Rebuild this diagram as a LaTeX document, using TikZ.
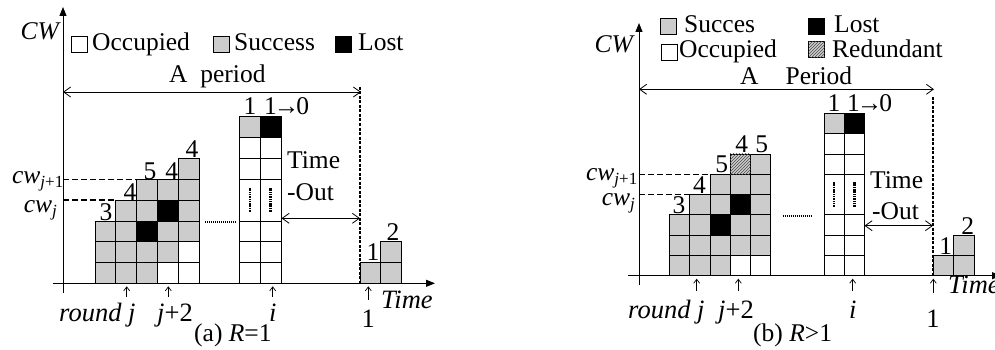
\documentclass[tikz,border=0pt]{standalone}
\usepackage{fontspec}
\setmainfont{Liberation Serif}
\usetikzlibrary{arrows.meta,patterns}
\definecolor{cellgray}{RGB}{204,204,204}
\newcommand\fsA{\fontsize{25.5}{28}\selectfont}
\newcommand\fsB{\fontsize{26.5}{29}\selectfont}
\newcommand\fsS{\fontsize{17}{17}\selectfont}
\newcommand\cwsub[1]{\textit{cw}\raisebox{-4pt}{\fsS #1}}
\newcommand\arrto{1\kern-3pt→\kern-3pt0}
\tikzset{
  txt/.style={inner sep=0pt, font=\fsA},
  txtb/.style={inner sep=0pt, font=\fsB},
  axis/.style={line width=0.9pt, -{Triangle[length=9pt,width=7pt]}},
  cellbase/.style={draw, line width=0.8pt},
  hatchcell/.style={draw, line width=0.8pt, fill=cellgray, postaction={pattern=north east lines, pattern color=gray!60!black}},
  legbox/.style={draw, line width=0.8pt, minimum size=16pt, inner sep=0pt},
  dimarrow/.style={line width=0.8pt, {Straight Barb[length=7pt,width=10pt]}-{Straight Barb[length=7pt,width=10pt]}},
  tickarrow/.style={line width=0.7pt, -{Straight Barb[length=4pt,width=6pt]}},
  vdash/.style={line width=1.3pt, dash pattern=on 3pt off 1.5pt},
  cwdash/.style={line width=1.4pt, dash pattern=on 6pt off 3pt},
  dotline/.style={line width=1.6pt, dash pattern=on 1pt off 1pt},
  vdotline/.style={line width=2.2pt, dash pattern=on 1.5pt off 0.8pt},
}
\begin{document}
\begin{tikzpicture}[x=1pt,y=-1pt]
\useasboundingbox (0,0) rectangle (995,350);
\clip (0,0) rectangle (995,350);

% ================= Panel (a) =================
\coordinate (aYb) at (63,293); \coordinate (aYt) at (63,7);
\coordinate (aXl) at (53,283.3); \coordinate (aXr) at (435,283.3);
\draw[axis] (aYb) -- (aYt);
\draw[axis] (aXl) -- (aXr);
\node[txt,anchor=base east] (aCW) at (61,40) {\textit{CW}};

% legend
\node[legbox,fill=white] (aLW) at (79,44) {};
\node[txt,anchor=base west] (aLWt) at (92,51) {Occupied};
\node[legbox,fill=cellgray] (aLG) at (221.5,44) {};
\node[txt,anchor=base west] (aLGt) at (234,51) {Success};
\node[legbox,fill=black] (aLK) at (343,44) {};
\node[txt,anchor=base west] (aLKt) at (358,51) {Lost};

% period
\node[txt,anchor=base west] (aPer) at (169,83) {A\ \ period};
\coordinate (aP1) at (63,92); \coordinate (aP2) at (361,92);
\draw[dimarrow] (aP1) -- (aP2);
\coordinate (aV1) at (360,87); \coordinate (aV2) at (360,283.3);
\draw[vdash] (aV1) -- (aV2);

% staircase cells
\begin{scope}[shift={(95pt,-283.3pt)}, x=20.8pt, y=20.8pt]
  \foreach \c/\r/\f in {0/0/cellgray,0/1/cellgray,0/2/cellgray,
      1/0/cellgray,1/1/cellgray,1/2/cellgray,1/3/cellgray,
      2/0/cellgray,2/1/cellgray,2/2/black,2/3/cellgray,2/4/cellgray,
      3/0/white,3/1/cellgray,3/2/cellgray,3/3/black,3/4/cellgray,
      4/0/white,4/1/white,4/2/cellgray,4/3/cellgray,4/4/cellgray,4/5/cellgray}
    \draw[cellbase,fill=\f] (\c,\r) rectangle ++(1,1);
\end{scope}
\coordinate (aCa1) at (63,179.3); \coordinate (aCa2) at (136.6,179.3);
\coordinate (aCb1) at (63,200.1); \coordinate (aCb2) at (115.8,200.1);
\draw[cwdash] (aCa1) -- (aCa2);
\draw[cwdash] (aCb1) -- (aCb2);
\node[txt,anchor=base east] (aCWj1) at (63.5,183) {\cwsub{\textit{j}+1}};
\node[txt,anchor=base east] (aCWj) at (57,212) {\cwsub{\textit{j}}};
\node[txt,anchor=base] (aN1) at (106,220.5) {3};
\node[txt,anchor=base] (aN2) at (130,200) {4};
\node[txt,anchor=base] (aN3) at (150,179) {5};
\node[txt,anchor=base] (aN4) at (171.7,179) {4};
\node[txt,anchor=base] (aN5) at (192,157.5) {4};

\coordinate (aD1) at (205,221.7); \coordinate (aD2) at (237,221.7);
\draw[dotline] (aD1) -- (aD2);

% tall column
\begin{scope}[shift={(239.3pt,-283.3pt)}, x=20.8pt, y=20.8pt]
  \foreach \c/\r/\f in {0/0/white,1/0/white,0/1/white,1/1/white,0/2/white,1/2/white,
      0/5/white,1/5/white,0/6/white,1/6/white,0/7/cellgray,1/7/black}
    \draw[cellbase,fill=\f] (\c,\r) rectangle ++(1,1);
  \draw[cellbase] (0,3) rectangle (1,5);
  \draw[cellbase] (1,3) rectangle (2,5);
  \draw[vdotline] (0.5,3.45) -- (0.5,4.6);
  \draw[vdotline] (1.5,3.45) -- (1.5,4.6);
\end{scope}
\node[txt,anchor=base] (aT1) at (250,115) {1};
\node[txt,anchor=base west] (aT2) at (264,115) {\arrto};
\node[txt,anchor=base west] (aTime) at (287,168) {Time};
\node[txt,anchor=base west] (aOut) at (287,200) {-Out};
\coordinate (aTo1) at (281.5,218.3); \coordinate (aTo2) at (360,218.3);
\draw[dimarrow] (aTo1) -- (aTo2);

% small columns
\begin{scope}[shift={(360pt,-283.3pt)}, x=20.8pt, y=20.8pt]
  \foreach \c/\r in {0/0,1/0,1/1}
    \draw[cellbase,fill=cellgray] (\c,\r) rectangle ++(1,1);
\end{scope}
\node[txt,anchor=base] (aS1) at (373,260.7) {1};
\node[txt,anchor=base] (aS2) at (393,240.7) {2};

% ticks and labels
\foreach \x/\n in {126.7/1,168.3/2,272.7/3} {
  \coordinate (aK\n b) at (\x,296.5); \coordinate (aK\n t) at (\x,286.3);
  \draw[tickarrow] (aK\n b) -- (aK\n t);
}
\coordinate (aK4b) at (368.3,300); \coordinate (aK4t) at (368.3,286.3);
\draw[tickarrow] (aK4b) -- (aK4t);
\node[txtb,anchor=base west] (aRj) at (59,321) {\textit{round j}};
\node[txtb,anchor=base west] (aJ2) at (157,321) {\textit{j}+2};
\node[txtb,anchor=base] (aI) at (272.7,321) {\textit{i}};
\node[txtb,anchor=base] (aOne) at (368.3,327) {1};
\node[txtb,anchor=base west] (aTimeX) at (381,308) {\textit{Time}};
\node[txt,anchor=base west] (aCap) at (194,341.7) {(a) \textit{R}=1};

% ================= Panel (b) =================
\coordinate (bYb) at (639,285); \coordinate (bYt) at (639,23);
\coordinate (bXl) at (628,275.7); \coordinate (bXr) at (1001,275.7);
\draw[axis] (bYb) -- (bYt);
\draw[axis] (bXl) -- (bXr);
\node[txt,anchor=base east] (bCW) at (635,53) {\textit{CW}};

% legend
\node[legbox,fill=cellgray] (bLG) at (668.5,26) {};
\node[txt,anchor=base west] (bLGt) at (684,33) {Succes};
\node[legbox,fill=white] (bLW) at (669,52) {};
\node[txt,anchor=base west] (bLWt) at (679,58) {Occupied};
\node[legbox,fill=black] (bLK) at (816.7,26) {};
\node[txt,anchor=base west] (bLKt) at (834,33) {Lost};
\node[legbox,fill=cellgray,postaction={pattern=north east lines, pattern color=gray!60!black}] (bLH) at (816.7,49.5) {};
\node[txt,anchor=base west] (bLHt) at (832,58) {Redundant};

% period
\node[txt,anchor=base west] (bPer) at (740,85) {A\hspace{27pt}Period};
\coordinate (bP1) at (639,89.3); \coordinate (bP2) at (934,89.3);
\draw[dimarrow] (bP1) -- (bP2);
\coordinate (bV1) at (933,97); \coordinate (bV2) at (933,275.7);
\draw[vdash] (bV1) -- (bV2);

% staircase
\begin{scope}[shift={(669.3pt,-275.7pt)}, x=20.3pt, y=20.3pt]
  \foreach \c/\r/\f in {0/0/cellgray,0/1/cellgray,0/2/cellgray,
      1/0/cellgray,1/1/cellgray,1/2/cellgray,1/3/cellgray,
      2/0/cellgray,2/1/cellgray,2/2/black,2/3/cellgray,2/4/cellgray,
      3/0/white,3/1/cellgray,3/2/cellgray,3/3/black,3/4/cellgray,
      4/0/white,4/1/cellgray,4/2/cellgray,4/3/cellgray,4/4/cellgray,4/5/cellgray}
    \draw[cellbase,fill=\f] (\c,\r) rectangle ++(1,1);
  \draw[hatchcell] (3,5) rectangle ++(1,1);
\end{scope}
\coordinate (bCa1) at (639,174.2); \coordinate (bCa2) at (709.9,174.2);
\coordinate (bCb1) at (639,194.5); \coordinate (bCb2) at (689.6,194.5);
\draw[cwdash] (bCa1) -- (bCa2);
\draw[cwdash] (bCb1) -- (bCb2);
\node[txt,anchor=base east] (bCWj1) at (637.5,180.5) {\cwsub{\textit{j}+1}};
\node[txt,anchor=base east] (bCWj) at (635,205.5) {\cwsub{\textit{j}}};
\node[txt,anchor=base] (bN1) at (679,213.3) {3};
\node[txt,anchor=base] (bN2) at (699.5,193) {4};
\node[txt,anchor=base] (bN3) at (721.7,172.7) {5};
\node[txt,anchor=base] (bN4) at (741.7,152.5) {4};
\node[txt,anchor=base] (bN5) at (761.7,152.5) {5};

\coordinate (bD1) at (782.7,215.7); \coordinate (bD2) at (812.7,215.7);
\draw[dotline] (bD1) -- (bD2);

% tall column
\begin{scope}[shift={(824pt,-275.7pt)}, x=20.3pt, y=20.3pt]
  \foreach \c/\r/\f in {0/0/white,1/0/white,0/1/white,1/1/white,0/2/white,1/2/white,
      0/5/white,1/5/white,0/6/white,1/6/white,0/7/cellgray,1/7/black}
    \draw[cellbase,fill=\f] (\c,\r) rectangle ++(1,1);
  \draw[cellbase] (0,3) rectangle (1,5);
  \draw[cellbase] (1,3) rectangle (2,5);
  \draw[vdotline] (0.5,3.4) -- (0.5,4.6);
  \draw[vdotline] (1.5,3.4) -- (1.5,4.6);
\end{scope}
\node[txt,anchor=base] (bT1) at (834,111.7) {1};
\node[txt,anchor=base west] (bT2) at (847,111.7) {\arrto};
\node[txt,anchor=base west] (bTime) at (870,188) {Time};
\node[txt,anchor=base west] (bOut) at (872,219) {-Out};
\coordinate (bTo1) at (864.5,225.7); \coordinate (bTo2) at (933,225.7);
\draw[dimarrow] (bTo1) -- (bTo2);

% small columns
\begin{scope}[shift={(933pt,-275.7pt)}, x=20.5pt, y=20.3pt]
  \foreach \c/\r in {0/0,1/0,1/1}
    \draw[cellbase,fill=cellgray] (\c,\r) rectangle ++(1,1);
\end{scope}
\node[txt,anchor=base] (bS1) at (945.7,254.5) {1};
\node[txt,anchor=base] (bS2) at (967.7,234.5) {2};

% ticks and labels
\foreach \x/\n in {696.7/1,738.3/2,852.7/3} {
  \coordinate (bK\n b) at (\x,291); \coordinate (bK\n t) at (\x,278.7);
  \draw[tickarrow] (bK\n b) -- (bK\n t);
}
\coordinate (bK4b) at (933.3,293); \coordinate (bK4t) at (933.3,278.7);
\draw[tickarrow] (bK4b) -- (bK4t);
\node[txtb,anchor=base west] (bRj) at (628,318) {\textit{round j}};
\node[txtb,anchor=base west] (bJ2) at (718,318) {\textit{j}+2};
\node[txtb,anchor=base] (bI) at (852.7,318) {\textit{i}};
\node[txtb,anchor=base] (bOne) at (933,327) {1};
\node[txtb,anchor=base west] (bTimeX) at (948,293) {\textit{Time}};
\node[txt,anchor=base west] (bCap) at (753,341.7) {(b) \textit{R}>1};
\end{tikzpicture}
\end{document}
